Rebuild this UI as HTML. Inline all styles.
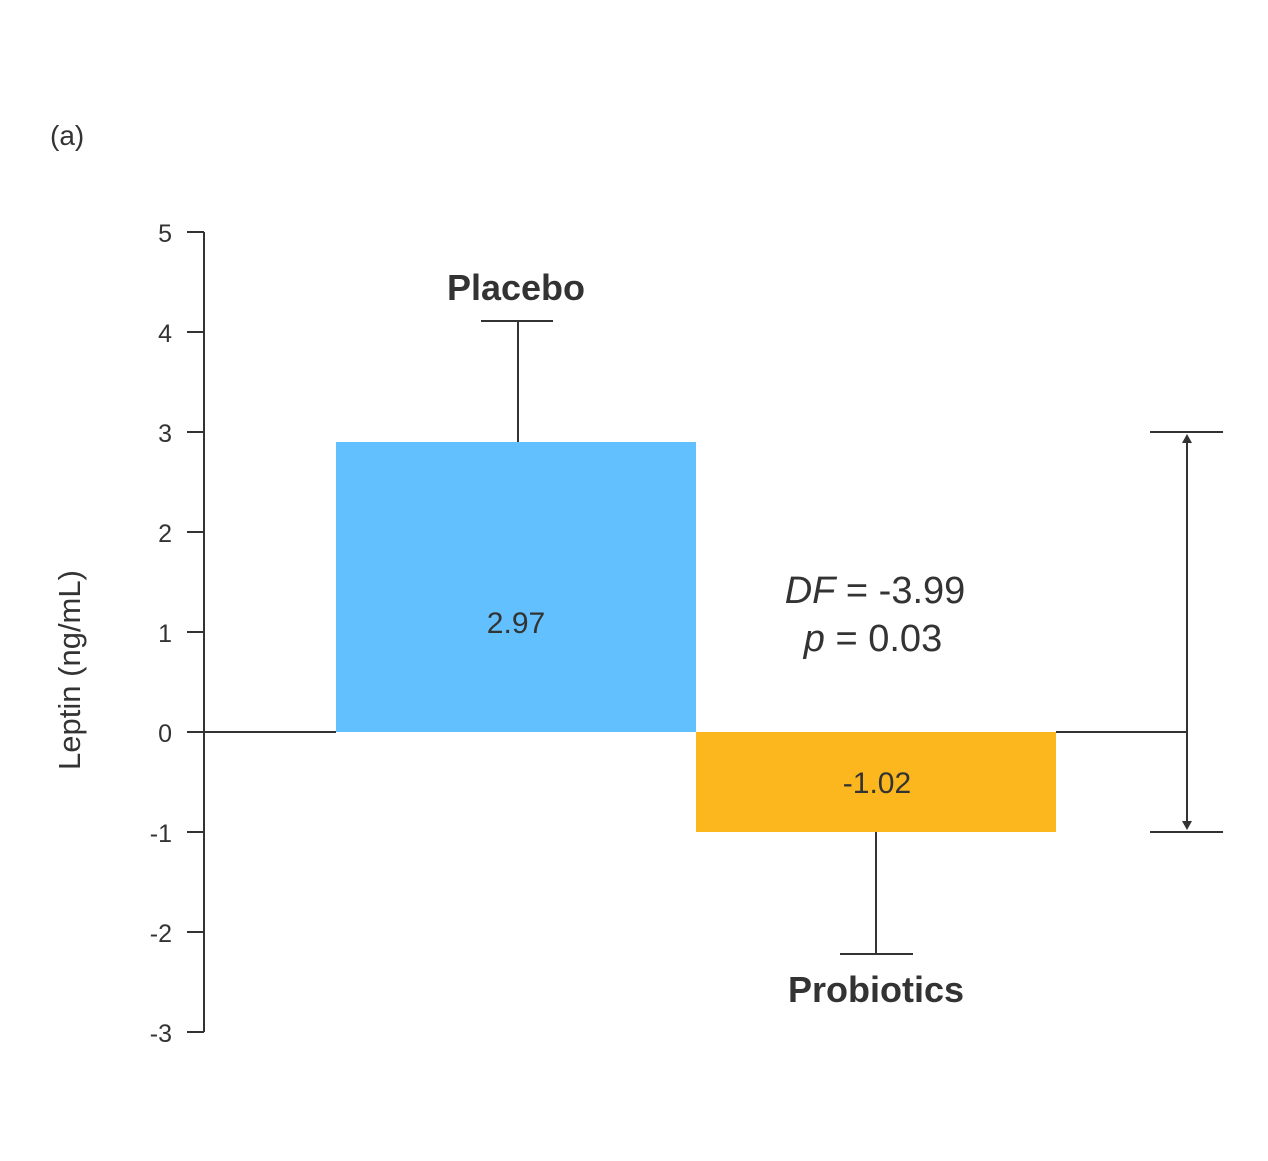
<!DOCTYPE html>
<html><head><meta charset="utf-8"><style>
html,body{margin:0;padding:0;background:#fff;}
svg{display:block;font-family:"Liberation Sans",sans-serif;}
</style></head><body>
<svg width="1268" height="1161" viewBox="0 0 1268 1161" xmlns="http://www.w3.org/2000/svg">
<rect width="1268" height="1161" fill="#fff"/>
<text x="50" y="145" font-size="28" fill="#333">(a)</text>
<g stroke="#333" stroke-width="2" fill="none">
<line x1="204" y1="232" x2="204" y2="1032"/>
<line x1="187" y1="232" x2="204" y2="232"/>
<line x1="187" y1="332" x2="204" y2="332"/>
<line x1="187" y1="432" x2="204" y2="432"/>
<line x1="187" y1="532" x2="204" y2="532"/>
<line x1="187" y1="632" x2="204" y2="632"/>
<line x1="187" y1="732" x2="204" y2="732"/>
<line x1="187" y1="832" x2="204" y2="832"/>
<line x1="187" y1="932" x2="204" y2="932"/>
<line x1="187" y1="1032" x2="204" y2="1032"/>
</g>
<g font-size="25" fill="#333" text-anchor="end">
<text x="172" y="242">5</text><text x="172" y="342">4</text><text x="172" y="442">3</text>
<text x="172" y="542">2</text><text x="172" y="642">1</text><text x="172" y="742">0</text>
<text x="172" y="842">-1</text><text x="172" y="942">-2</text><text x="172" y="1042">-3</text>
</g>
<text transform="translate(80,670) rotate(-90)" text-anchor="middle" font-size="31" fill="#333">Leptin (ng/mL)</text>
<rect x="336" y="442" width="360" height="290" fill="#62C0FE"/>
<rect x="696" y="732" width="360" height="100" fill="#FDB71E"/>
<g stroke="#333" stroke-width="2" fill="none">
<line x1="204" y1="732" x2="336" y2="732"/>
<line x1="1056" y1="732" x2="1187" y2="732"/>
<line x1="518" y1="321" x2="518" y2="442"/>
<line x1="481" y1="321" x2="553" y2="321"/>
<line x1="876" y1="832" x2="876" y2="954"/>
<line x1="840" y1="954" x2="913" y2="954"/>
<line x1="1150" y1="432" x2="1223" y2="432"/>
<line x1="1150" y1="832" x2="1223" y2="832"/>
<line x1="1187" y1="437" x2="1187" y2="827"/>
</g>
<polygon points="1187,434 1182,443 1192,443" fill="#333"/>
<polygon points="1187,830 1182,821 1192,821" fill="#333"/>
<g fill="#333" text-anchor="middle">
<text x="516" y="300" font-size="36" font-weight="bold">Placebo</text>
<text x="876" y="1002" font-size="36" font-weight="bold">Probiotics</text>
<text x="516" y="633" font-size="30">2.97</text>
<text x="877" y="793" font-size="30">-1.02</text>
<text x="875" y="603" font-size="38"><tspan font-style="italic">DF</tspan> = -3.99</text>
<text x="873" y="651" font-size="38"><tspan font-style="italic">p</tspan> = 0.03</text>
</g>
</svg>
</body></html>
